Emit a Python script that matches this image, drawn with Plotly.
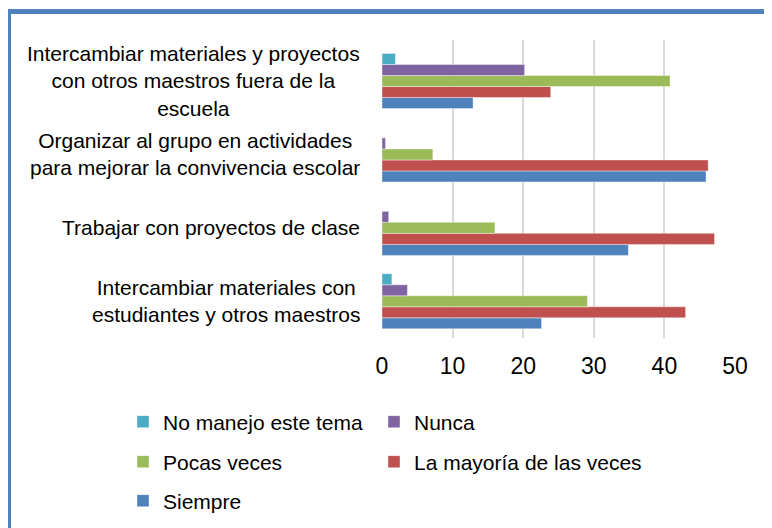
import plotly.graph_objects as go

categories = [
    "Intercambiar materiales con<br>estudiantes y otros maestros",
    "Trabajar con proyectos de clase",
    "Organizar al grupo en actividades<br>para mejorar la convivencia escolar",
    "Intercambiar materiales y proyectos<br>con otros maestros fuera de la<br>escuela",
]

series_names = ["Siempre", "La mayoría de las veces", "Pocas veces", "Nunca", "No manejo este tema"]
siempre = [22.6, 34.9, 45.9, 12.9]
mayoria = [43.0, 47.1, 46.2, 23.9]
pocas = [29.1, 16.0, 7.2, 40.8]
nunca = [3.6, 0.95, 0.5, 20.2]
no_manejo = [1.4, 0.0, 0.0, 1.9]
colors = ["#4f81bd", "#c0504d", "#9bbb59", "#8064a2", "#4bacc6"]
x_ticks = [0, 10, 20, 30, 40, 50]

values = [siempre, mayoria, pocas, nunca, no_manejo]
legend_ids = ["legend5", "legend4", "legend3", "legend2", "legend"]

FONT = "Liberation Sans"

fig = go.Figure()
for name, vals, col, lg in zip(series_names, values, colors, legend_ids):
    fig.add_trace(go.Bar(
        y=categories, x=vals, name=name, orientation="h", legend=lg,
        marker=dict(color=col, line=dict(color="rgba(255,255,255,0.5)", width=0.8)),
    ))

# page has an 8px body margin; work in screen pixels and convert
OFF = 8
W, H = 764, 520
L = 382 - OFF
T = 40 - OFF
R = W - (735 - OFF)
B = H - (338 - OFF)
pw = W - L - R
ph = H - T - B

def sx(px):
    return (px - OFF - L) / pw

def sy(py):
    return (H - B - (py - OFF)) / ph

annotations = []
for c in categories:
    annotations.append(dict(
        x=sx(362), xref="paper", xanchor="right",
        y=c, yref="y", yanchor="middle",
        text=c, showarrow=False, align="center",
        font=dict(family=FONT, size=21, color="#000000"),
    ))

def legend_at(px, py):
    return dict(orientation="h", x=sx(px), xanchor="left",
                y=sy(py), yanchor="middle",
                font=dict(family=FONT, size=21, color="#000000"), itemwidth=30,
                bgcolor="rgba(0,0,0,0)")

fig.update_layout(
    width=W, height=H,
    margin=dict(l=L, r=R, t=T, b=B, autoexpand=False),
    barmode="group", bargap=0.25, bargroupgap=0,
    plot_bgcolor="white", paper_bgcolor="white",
    font=dict(family=FONT, size=21, color="#000000"),
    xaxis=dict(range=[0, 50], tickvals=x_ticks, showgrid=True, gridcolor="#d9d9d9",
               gridwidth=1.5, zeroline=False, showline=False, ticks="",
               tickfont=dict(size=23), ticklabelstandoff=12),
    yaxis=dict(showticklabels=False, showgrid=False, zeroline=False, showline=False),
    showlegend=True,
    legend=legend_at(123, 422),
    legend2=legend_at(374, 422),
    legend3=legend_at(123, 462),
    legend4=legend_at(374, 462),
    legend5=legend_at(123, 501),
    annotations=annotations,
    shapes=[dict(type="rect", xref="paper", yref="paper",
                 x0=sx(8.5), x1=sx(790),
                 y0=sy(560), y1=sy(11.5),
                 line=dict(color="#4f81bd", width=5), layer="below")],
)

fig.write_html("out.html")
